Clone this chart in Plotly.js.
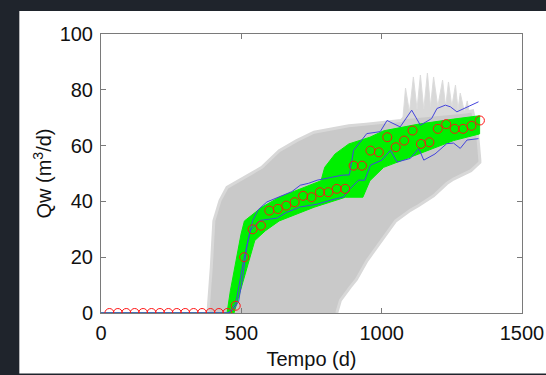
<!DOCTYPE html>
<html>
<head>
<meta charset="utf-8">
<script src="https://cdn.plot.ly/plotly-3.0.1.min.js"></script>
<style>html,body{margin:0;padding:0;background:#1f242c;}#chart{width:546px;height:375px;}</style>
</head>
<body>
<div id="chart"></div>
<script>
// Gray ensemble envelope (simulated curves)
var grayUpperX = [381,393,402,424,449,511,573,635,697,759,821,883,945,1007,1069,1080,1300,1324,1342,1350];
var grayUpperY = [0,16.4,33,40.3,45,48.6,52.2,58.2,61.8,64.8,66,67.1,67.7,68.3,69,70,72,72.5,64,54.6];
var grayLowerX = [1350,1318,1256,1232,1185,1132,1102,1050,1006,970,948,910,888,853,840];
var grayLowerY = [54,51,48,46.4,42,38.5,36.8,33,27,22,18.8,12,9.3,4.5,0];
// Spiky upper part of the ensemble
var spikeX = [1075,1085,1099,1113,1126,1138,1150,1163,1174,1185,1200,1217,1228,1238,1250,1263,1272,1280,1295,1305,1315];
var spikeY = [69,80.6,72,84.6,73,85.3,73,86,74,84.6,74,83.5,74,82.8,74,81.7,73,78.8,72,76,70];
// Green band
var greenUpperX = [0,449,461,499,511,573,635,722,784,797,834,883,958,1007,1132,1256,1349];
var greenUpperY = [0,0,8,28.3,33,37.9,41.5,45,47.4,52.2,57,60.6,63,65.3,67.7,69.5,70.7];
var greenLowerX = [0,474,511,548,586,635,759,871,933,958,1007,1132,1256,1349];
var greenLowerY = [0,0,12.8,26,29.5,33,37.9,41.5,41.5,47.4,52.2,57,61.8,64.2];
// Blue percentile lines
var blueUpperX = [0,450,470,490,505,520,540,560,591,620,650,680,710,740,770,820,860,885,900,947,995,1019,1066,1107,1138,1178,1197,1227,1245,1268,1280,1345];
var blueUpperY = [0,0,1,4,13,24,33,37,39.8,41,42.5,43.5,45.8,46.5,47.6,48.5,49.4,49.5,58.3,64.3,65,69,66.7,72.7,67.3,69.7,73.3,74.5,73.9,72.1,72.7,75.7];
var blueLowerX = [0,455,480,508,532,567,627,660,710,770,820,864,888,918,940,960,1001,1031,1055,1102,1132,1150,1190,1232,1256,1280,1304,1345];
var blueLowerY = [0,0,3.3,18.9,29.6,33.2,34,36,38,39,40.5,41.6,44.6,47.6,47.6,53,54.8,58.3,54.1,55.4,59,54.8,57,60.7,60.9,59,62,62.5];
// Observed data (red circles)
var obsX = [30,60,90,120,150,180,210,240,270,300,330,360,390,420,450,480,510,540,570,600,630,660,690,720,750,780,810,840,870,900,930,960,990,1020,1050,1080,1110,1140,1170,1200,1230,1260,1290,1320,1350];
var obsY = [0,0,0,0,0,0,0,0,0,0,0,0,0,0,0,2.6,20,30,31.3,36.7,37.3,38.5,39.7,42,41.5,43.3,43.3,44.5,44.5,52.8,52.8,58.2,57.6,63,59.4,61.8,65.4,60.6,61.2,66,67.7,66,66,67.1,69];
var xTicks = [0,500,1000,1500];
var yTicks = [0,20,40,60,80,100];

var traces = [
  {x: spikeX, y: spikeY, mode:'lines', fill:'toself', fillcolor:'#d8d8d8', line:{color:'#dcdcdc', width:1}, hoverinfo:'skip'},
  {x: grayUpperX.concat(grayLowerX), y: grayUpperY.concat(grayLowerY), mode:'lines', fill:'toself', fillcolor:'#c9c9c9', line:{color:'#d8d8d8', width:3}, hoverinfo:'skip'},
  {x: greenUpperX.concat(greenLowerX.slice().reverse()), y: greenUpperY.concat(greenLowerY.slice().reverse()), mode:'lines', fill:'toself', fillcolor:'#00f000', line:{color:'#00f000', width:1}, hoverinfo:'skip'},
  {x: blueUpperX, y: blueUpperY, mode:'lines', line:{color:'#4444dd', width:1}},
  {x: blueLowerX, y: blueLowerY, mode:'lines', line:{color:'#4444dd', width:1}},
  {x: obsX, y: obsY, mode:'markers', marker:{symbol:'circle-open', size:9, color:'#ff1414', line:{width:1}}}
];

var axisCommon = {
  showgrid:false, zeroline:false, showline:true, linecolor:'#7a7a7a', linewidth:1,
  mirror:'ticks', ticks:'inside', ticklen:5, tickcolor:'#7a7a7a',
  tickfont:{family:'Liberation Sans, Arial, sans-serif', size:20, color:'#111'}
};

var layout = {
  width:546, height:375,
  margin:{l:101, r:24, t:34, b:62},
  paper_bgcolor:'#1f242c', plot_bgcolor:'#ffffff',
  showlegend:false,
  xaxis: Object.assign({}, axisCommon, {range:[0,1500], tickvals:xTicks, ticktext:xTicks.map(String), ticklabelstandoff:2,
    title:{text:'Tempo (d)', font:{family:'Liberation Sans, Arial, sans-serif', size:20, color:'#111'}, standoff:8}}),
  yaxis: Object.assign({}, axisCommon, {range:[0,100], tickvals:yTicks, ticktext:yTicks.map(String), ticklabelstandoff:3,
    title:{text:'Qw (m<sup>3</sup>/d)', font:{family:'Liberation Sans, Arial, sans-serif', size:20, color:'#111'}, standoff:2}}),
  shapes:[{type:'rect', xref:'paper', yref:'paper', x0:-0.194, x1:1.1, y0:-0.2172, y1:1.0826, fillcolor:'#ffffff', line:{width:0}, layer:'below'}]
};

Plotly.newPlot('chart', traces, layout, {staticPlot:true, displayModeBar:false});
</script>
</body>
</html>
